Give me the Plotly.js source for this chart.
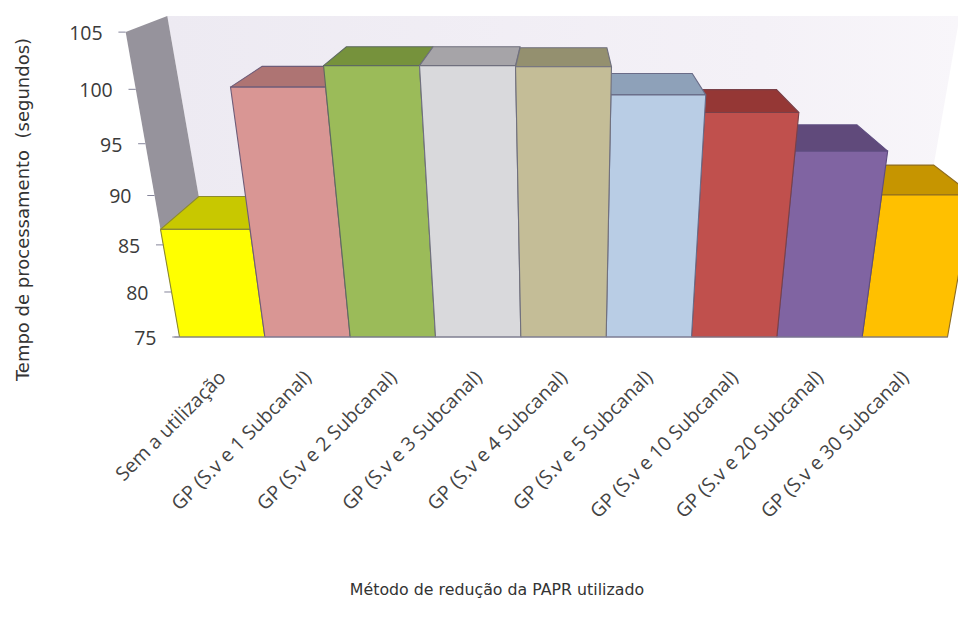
<!DOCTYPE html>
<html><head><meta charset="utf-8">
<script src="https://cdn.plot.ly/plotly-3.0.1.min.js"></script>
<style>html,body{margin:0;padding:0;background:#fff}#c{width:958px;height:624px}</style>
</head><body><div id="c"></div>
<script>
var categories = ["Sem a utilização","GP (S.v e 1 Subcanal)","GP (S.v e 2 Subcanal)","GP (S.v e 3 Subcanal)","GP (S.v e 4 Subcanal)","GP (S.v e 5 Subcanal)","GP (S.v e 10 Subcanal)","GP (S.v e 20 Subcanal)","GP (S.v e 30 Subcanal)"];
var tempos = [86.6,100.2,102.1,102.1,102.0,99.5,97.9,94.3,90.05];
var frontColors = ["#FFFF00","#D99694","#9BBB59","#D9D9DC","#C4BD97","#B9CDE5","#C0504D","#8064A2","#FFC000"];
var topColors = ["#C8C800","#AE7473","#76923C","#A6A4A8","#94906F","#8EA1B9","#953735","#604A7B","#C69500"];
var edgeColors = ["#8C8A30","#6E5C78","#5E6A60","#70707E","#70707E","#6A6C88","#7A4048","#5E4C80","#8E6C20"];
var yTicks = [75,80,85,90,95,100,105];
var drawOrder = [0,1,2,3,8,7,6,5,4];

// Perspective of the 3-D chart
var BASE=75, CENTER=4;
function fy(v){var h=v-BASE; return 8.8*h/(1-0.00447*h);}           // projected height
function sc(v){return 1+fy(v)*0.00046;}                             // widening with height
function fx(edge,v){return CENTER+(edge-CENTER)*sc(v);}             // front x
function bx(edge,v){var x=fx(edge,v); return x+(CENTER-x)*0.095;}   // back x
function by(v){var f=fy(v); return f+42-0.085*f;}                   // back y

var traces=[];
function poly(x,y,fill,line,extra){
  var t={type:'scatter',mode:line?'lines':'none',x:x.concat([x[0]]),y:y.concat([y[0]]),fill:'toself',fillcolor:fill,cliponaxis:false,
    line:{color:line||fill,width:1.1},hoverinfo:'skip',showlegend:false};
  for(var k in extra)t[k]=extra[k];
  traces.push(t);
}
var LE=-0.5, RE=8.5;
poly([bx(LE,105),bx(RE,105),bx(RE,75),bx(LE,75)],[by(105),by(105),by(75),by(75)],'#EEEBF3',null,
  {fillgradient:{type:'horizontal',colorscale:[[0,'#EDEAF2'],[0.75,'#F4F1F7'],[1,'#F8F6FA']]}});
poly([fx(LE,105),bx(LE,105),bx(LE,75),fx(LE,75)],[fy(105),by(105),by(75),fy(75)],'#96939C',null);
drawOrder.forEach(function(i){
  var v=tempos[i],l=i-0.5,r=i+0.5;
  poly([fx(l,v),fx(r,v),bx(r,v),bx(l,v)],[fy(v),fy(v),by(v),by(v)],topColors[i],edgeColors[i]);
  poly([fx(l,BASE),fx(r,BASE),fx(r,v),fx(l,v)],[0,0,fy(v),fy(v)],frontColors[i],edgeColors[i]);
});
traces.push({type:'scatter',mode:'lines',x:[fx(LE,BASE)-0.06,fx(RE,BASE)],y:[0,0],line:{color:'#85859A',width:1.2},hoverinfo:'skip',showlegend:false,cliponaxis:false});
yTicks.forEach(function(t){
  traces.push({type:'scatter',mode:'lines',x:[fx(LE,t)-0.085,fx(LE,t)],y:[fy(t),fy(t)],line:{color:'#85859A',width:1},hoverinfo:'skip',showlegend:false,cliponaxis:false});
});
traces.push({type:'scatter',mode:'text',x:yTicks.map(function(t){return fx(LE,t)-0.27;}),y:yTicks.map(function(t){return fy(t)-3;}),
  text:yTicks.map(String),textposition:'middle left',textfont:{family:'"Open Sans"',size:19.5,color:'#3a3a3a'},hoverinfo:'skip',showlegend:false,cliponaxis:false});

var layout={width:958,height:624,margin:{l:36,r:0,t:0,b:205},paper_bgcolor:'#fff',plot_bgcolor:'#fff',showlegend:false,
  xaxis:{range:[4+(36-563.5)/85.33,4+(958-563.5)/85.33],anchor:'free',position:(419-337)/419,tickmode:'array',tickvals:categories.map(function(c,i){return i;}),ticktext:categories,
    tickangle:-45,ticks:'',ticklabelstandoff:24,ticklabelshift:-2,showgrid:false,zeroline:false,showline:false,automargin:false,
    tickfont:{family:'"Open Sans"',size:19.5,color:'#444'},
    title:{text:'Método de redução da PAPR utilizado',standoff:61,font:{family:'"DejaVu Sans"',size:15.8,color:'#333'}}},
  yaxis:{range:[-82,337],showgrid:false,zeroline:false,showline:false,showticklabels:false,ticks:'',automargin:false,
    title:{text:'Tempo de processamento  (segundos)',standoff:0,font:{family:'"DejaVu Sans"',size:18,color:'#333'}}}
};
Plotly.newPlot('c',traces,layout,{displayModeBar:false,staticPlot:true});
</script></body></html>
